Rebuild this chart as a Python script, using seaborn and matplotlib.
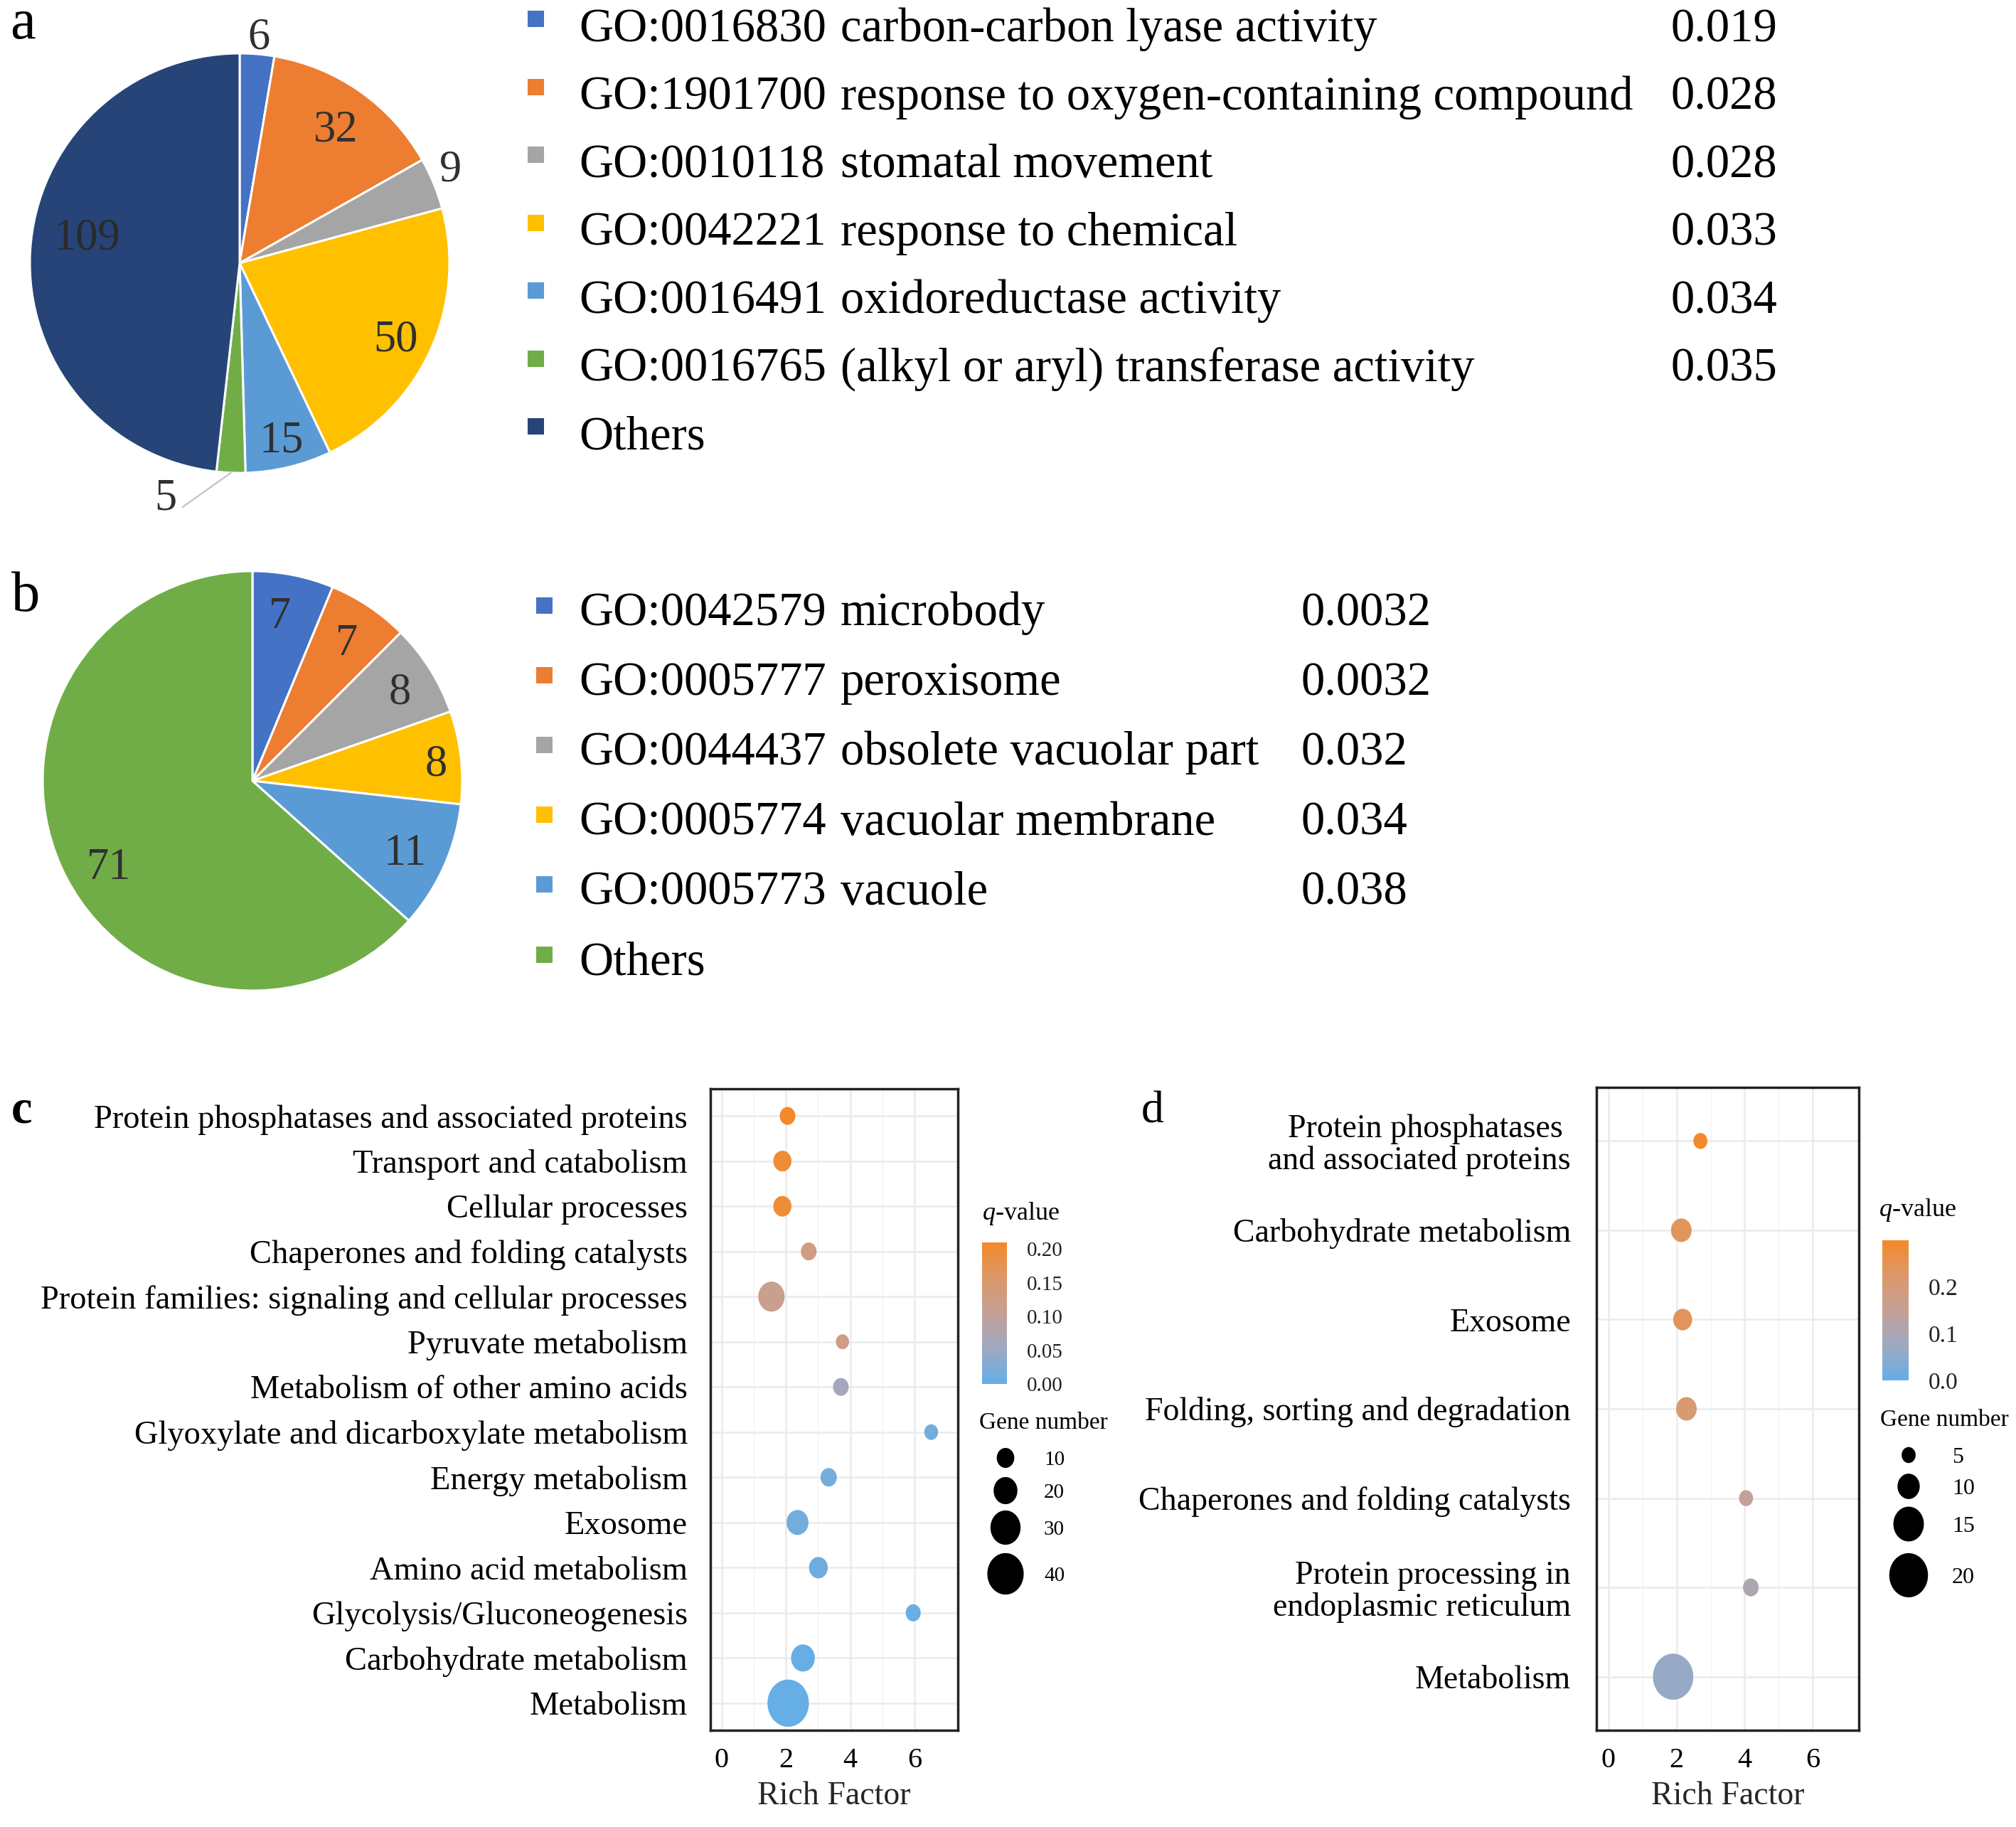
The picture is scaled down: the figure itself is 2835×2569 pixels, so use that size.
import numpy as np
import pandas as pd
import matplotlib
matplotlib.use("Agg")
import matplotlib.pyplot as plt
import seaborn as sns
from matplotlib.path import Path
from matplotlib.colors import LinearSegmentedColormap, Normalize
from matplotlib.cm import ScalarMappable
from matplotlib.patches import Rectangle

# ---------------- data ----------------
pie_a_counts = [6, 32, 9, 50, 15, 5, 109]
pie_a_ids = ["GO:0016830", "GO:1901700", "GO:0010118", "GO:0042221",
             "GO:0016491", "GO:0016765", "Others"]
pie_a_terms = ["carbon-carbon lyase activity",
               "response to oxygen-containing compound",
               "stomatal movement", "response to chemical",
               "oxidoreductase activity",
               "(alkyl or aryl) transferase activity", ""]
pie_a_pvals = ["0.019", "0.028", "0.028", "0.033", "0.034", "0.035", ""]
pie_a_colors = ["#4472C4", "#ED7D31", "#A5A5A5", "#FFC000", "#5B9BD5",
                "#70AD47", "#264478"]

pie_b_counts = [7, 7, 8, 8, 11, 71]
pie_b_ids = ["GO:0042579", "GO:0005777", "GO:0044437", "GO:0005774",
             "GO:0005773", "Others"]
pie_b_terms = ["microbody", "peroxisome", "obsolete vacuolar part",
               "vacuolar membrane", "vacuole", ""]
pie_b_pvals = ["0.0032", "0.0032", "0.032", "0.034", "0.038", ""]
pie_b_colors = ["#4472C4", "#ED7D31", "#A5A5A5", "#FFC000", "#5B9BD5",
                "#70AD47"]

kegg_c_terms = ["Protein phosphatases and associated proteins",
                "Transport and catabolism", "Cellular processes",
                "Chaperones and folding catalysts",
                "Protein families: signaling and cellular processes",
                "Pyruvate metabolism", "Metabolism of other amino acids",
                "Glyoxylate and dicarboxylate metabolism",
                "Energy metabolism", "Exosome", "Amino acid metabolism",
                "Glycolysis/Gluconeogenesis", "Carbohydrate metabolism",
                "Metabolism"]
kegg_c_rich = [2.05, 1.89, 1.89, 2.71, 1.55, 3.76, 3.71, 6.52, 3.33, 2.36,
               3.01, 5.96, 2.53, 2.07]
kegg_c_genes = [7, 11, 11, 7, 24, 3, 7, 4, 8, 17, 12, 6, 20, 48]
kegg_c_q = [0.21, 0.20, 0.20, 0.13, 0.115, 0.125, 0.06, 0.012, 0.015,
            0.012, 0.01, 0.004, 0.002, 0.0003]
legend_c_sizes = [10, 20, 30, 40]
cbar_c_ticks = [0.00, 0.05, 0.10, 0.15, 0.20]

kegg_d_terms = ["Protein phosphatases \nand associated proteins",
                "Carbohydrate metabolism", "Exosome",
                "Folding, sorting and degradation",
                "Chaperones and folding catalysts",
                "Protein processing in\nendoplasmic reticulum",
                "Metabolism"]
kegg_d_rich = [2.70, 2.14, 2.18, 2.29, 4.04, 4.18, 1.90]
kegg_d_genes = [5, 9, 8, 9, 5, 6, 21]
kegg_d_q = [0.30, 0.24, 0.24, 0.21, 0.15, 0.105, 0.065]
legend_d_sizes = [5, 10, 15, 20]
cbar_d_ticks = [0.0, 0.1, 0.2]

# ---------------- style ----------------
sns.set_theme(style="white")
SERIF = ["Liberation Serif", "DejaVu Serif"]
plt.rcParams["font.family"] = SERIF
plt.rcParams["mathtext.fontset"] = "custom"
plt.rcParams["mathtext.rm"] = "Liberation Serif"
plt.rcParams["mathtext.it"] = "Liberation Serif:italic"
plt.rcParams["text.color"] = "black"

W, H, DPI = 2835, 2569, 100
fig = plt.figure(figsize=(W / DPI, H / DPI), dpi=DPI)
fig.patch.set_facecolor("white")


def px_axes(x0, y0, x1, y1):
    return fig.add_axes([x0 / W, 1 - y1 / H, (x1 - x0) / W, (y1 - y0) / H])


ov = fig.add_axes([0, 0, 1, 1])
ov.set_xlim(0, W)
ov.set_ylim(H, 0)
ov.axis("off")
ov.patch.set_alpha(0)

LBL_COLOR = "#303030"

# ---------------- pies ----------------
def draw_pie(cx, cy, r, counts, colors, radii, dangs, leaders, lcolors):
    ax = px_axes(cx - r, cy - r, cx + r, cy + r)
    wedges, _ = ax.pie(counts, colors=colors, startangle=90, counterclock=False,
                       radius=1.0,
                       wedgeprops=dict(edgecolor="white", linewidth=2.2))
    ax.set_xlim(-1, 1)
    ax.set_ylim(-1, 1)
    ax.set_aspect("equal")
    ax.axis("off")
    for i, w in enumerate(wedges):
        mid = np.deg2rad((w.theta1 + w.theta2) / 2)
        ang = mid + np.deg2rad(dangs[i])
        pos = (radii[i] * np.cos(ang), radii[i] * np.sin(ang))
        if leaders[i]:
            ax.annotate(str(counts[i]), xy=(np.cos(mid), np.sin(mid)),
                        xytext=pos, ha="center", va="center_baseline",
                        fontsize=45, color=lcolors[i], annotation_clip=False,
                        arrowprops=dict(arrowstyle="-", color="#BFBFBF",
                                        lw=1.5, relpos=(1.0, 0.2),
                                        shrinkA=4, shrinkB=0))
        else:
            ax.text(pos[0], pos[1], str(counts[i]), ha="center",
                    va="center_baseline", fontsize=45, color=lcolors[i])
    return ax


draw_pie(337, 370, 295, pie_a_counts, pie_a_colors,
         radii=[1.10, 0.80, 1.11, 0.82, 0.85, 1.155, 0.74],
         dangs=[0, 0, 2.6, 0, 0, -15.4, -7.8],
         leaders=[False, False, False, False, False, True, False],
         lcolors=[LBL_COLOR] * 6 + ["#2a2a2a"])

draw_pie(355, 1098, 295, pie_b_counts, pie_b_colors,
         radii=[0.815, 0.81, 0.83, 0.88, 0.795, 0.79],
         dangs=[2.0, 0, 0, 0, 0, 5.8],
         leaders=[False] * 6,
         lcolors=[LBL_COLOR] * 6)

# pie legends
def pie_legend(ids, terms, pvals, colors, base0, step, sq_x, sq_dy, pval_x):
    for i in range(len(ids)):
        yb = base0 + i * step
        ov.add_patch(Rectangle((sq_x - 11.5, yb - sq_dy - 11.5), 23, 23,
                               facecolor=colors[i], edgecolor="none"))
        ov.text(814, yb, ids[i], fontsize=48, va="baseline", ha="left")
        if terms[i]:
            ov.text(1182, yb, terms[i], fontsize=48, va="baseline", ha="left")
        if pvals[i]:
            ov.text(pval_x, yb, pvals[i], fontsize=48, va="baseline", ha="left")


pie_legend(pie_a_ids, pie_a_terms, pie_a_pvals, pie_a_colors,
           58, 95.5, 753, 31.5, 2350)
pie_legend(pie_b_ids, pie_b_terms, pie_b_pvals, pie_b_colors,
           879, 98.2, 765, 28, 1830)

# panel letters
ov.text(14, 54, "a", fontsize=58, va="baseline", ha="left")
ov.text(16, 859, "b", fontsize=58, va="baseline", ha="left")
ov.text(16, 1578, "c", fontsize=48, va="baseline", ha="left", fontweight="bold")
ov.text(1605, 1578, "d", fontsize=46, va="baseline", ha="left")

# ---------------- bubble plots ----------------
cmap = LinearSegmentedColormap.from_list(
    "qv", ["#65AEE6", "#9EA9C2", "#C4A196", "#DC9868", "#F4892A"])

tt = np.linspace(0, 2 * np.pi, 80)
ELL = 1.14
ellipse = Path(np.column_stack([np.cos(tt), ELL * np.sin(tt)]), closed=True)


def size_of(n, a, b):
    w_px = a + b * n
    return (ELL * 0.72 * w_px) ** 2


def bubble(ax_box, terms, rich, genes, q, qnorm, a, b, ylab_pad, yfs):
    ax = px_axes(*ax_box)
    n = len(terms)
    df = pd.DataFrame({"term": terms, "rich": rich, "genes": genes, "q": q,
                       "pos": np.arange(n, 0, -1)})
    sizes = {g: size_of(g, a, b) for g in sorted(set(genes))}
    sns.scatterplot(data=df, x="rich", y="pos", hue="q", size="genes",
                    palette=cmap, hue_norm=qnorm, sizes=sizes,
                    marker=ellipse, linewidth=0, edgecolor="none",
                    legend=False, ax=ax, zorder=3)
    ax.set_xlim(-0.35, 7.35)
    ax.set_ylim(0.4, n + 0.6)
    ax.set_xticks([0, 2, 4, 6])
    ax.set_xticks([1, 3, 5], minor=True)
    ax.set_yticks(df["pos"])
    ax.set_yticklabels(df["term"], fontsize=yfs)
    ax.set_xticklabels(["0", "2", "4", "6"], fontsize=29)
    ax.grid(True, which="major", color="#EBEBEB", lw=1.8)
    ax.grid(True, which="minor", axis="x", color="#F4F4F4", lw=1.0)
    ax.set_axisbelow(True)
    for sp in ax.spines.values():
        sp.set_visible(True)
        sp.set_color("#222222")
        sp.set_linewidth(2.5)
    ax.tick_params(axis="both", which="major", length=5, width=2,
                   color="#333333", labelcolor="black", direction="out")
    ax.tick_params(axis="y", pad=ylab_pad)
    ax.tick_params(axis="x", pad=12)
    ax.tick_params(which="minor", length=0)
    ax.set_xlabel("Rich Factor", fontsize=33, labelpad=8)
    ax.set_ylabel("")
    for lbl in ax.get_yticklabels():
        lbl.set_multialignment("right")
        lbl.set_linespacing(1.05)
    return ax


norm_c = Normalize(0.0, 0.21)
norm_d = Normalize(0.0, 0.30)
AC, BC = 15.8, 0.884
AD, BD = 8.1, 2.32

bubble((999, 1531, 1347, 2433), kegg_c_terms, kegg_c_rich, kegg_c_genes,
       kegg_c_q, norm_c, AC, BC, 18, 33.5)
bubble((2245, 1529, 2614, 2433), kegg_d_terms, kegg_d_rich, kegg_d_genes,
       kegg_d_q, norm_d, AD, BD, 21, 33)


# legends for bubble plots
def qbar(box, norm, ticks, fmt, fs):
    cax = px_axes(*box)
    cb = fig.colorbar(ScalarMappable(norm=norm, cmap=cmap), cax=cax)
    cb.outline.set_visible(False)
    cb.set_ticks(ticks)
    cb.set_ticklabels([fmt.format(t) for t in ticks])
    cax.tick_params(axis="y", direction="in", length=6, width=1.2,
                    color="white", left=True, right=True, labelleft=False,
                    labelright=True, labelsize=fs, labelcolor="#222222",
                    pad=20)
    return cax


qbar((1381, 1747, 1416, 1946), norm_c, cbar_c_ticks, "{:.2f}", 21)
qbar((2647, 1744, 2684, 1941), norm_d, cbar_d_ticks, "{:.1f}", 24)

ov.text(1381, 1715, "$q$-value", fontsize=26, va="baseline", ha="left")
ov.text(2642, 1710, "$q$-value", fontsize=26, va="baseline", ha="left")
ov.text(1377, 2009, "Gene number", fontsize=24, va="baseline", ha="left")
ov.text(2644, 2005, "Gene number", fontsize=24, va="baseline", ha="left")

leg_c_y = [2050, 2096, 2148, 2213]
ov.scatter([1414] * 4, leg_c_y,
           s=[size_of(g, AC, BC) for g in legend_c_sizes],
           marker=ellipse, color="black", linewidths=0)
for g, y in zip(legend_c_sizes, leg_c_y):
    ov.text(1468, y, str(g), fontsize=21, va="center_baseline", ha="left")

leg_d_y = [2046, 2090, 2143, 2215]
ov.scatter([2684] * 4, leg_d_y,
           s=[size_of(g, AD, BD) for g in legend_d_sizes],
           marker=ellipse, color="black", linewidths=0)
for g, y in zip(legend_d_sizes, leg_d_y):
    ov.text(2745, y, str(g), fontsize=23, va="center_baseline", ha="left")

fig.savefig("out.png", dpi=DPI, facecolor="white")
